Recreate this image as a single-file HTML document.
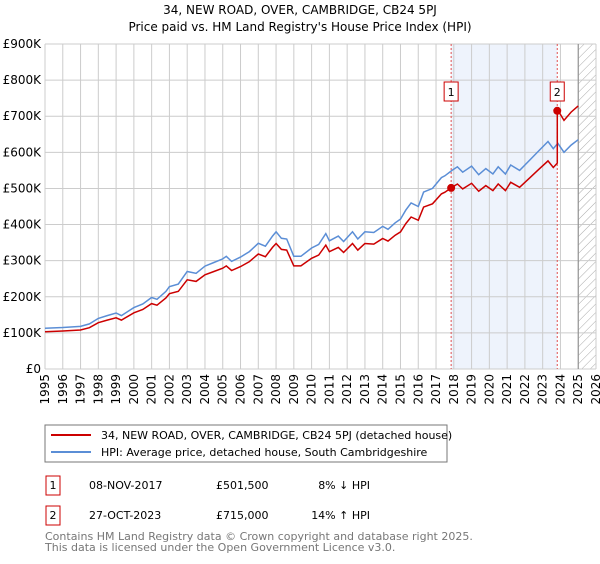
<!DOCTYPE html>
<html><head><meta charset="utf-8"><style>
body{margin:0;background:#fff;font-family:"DejaVu Sans","Liberation Sans",sans-serif}
</style></head><body>
<svg width="600" height="560" xmlns="http://www.w3.org/2000/svg" style="font-family:'DejaVu Sans','Liberation Sans',sans-serif">
<text x="300" y="14" text-anchor="middle" font-size="12">34, NEW ROAD, OVER, CAMBRIDGE, CB24 5PJ</text>
<text x="300" y="31" text-anchor="middle" font-size="12">Price paid vs. HM Land Registry's House Price Index (HPI)</text>
<defs><pattern id="hatch" width="6" height="6" patternUnits="userSpaceOnUse" patternTransform="rotate(45)"><line x1="0" y1="0" x2="0" y2="6" stroke="#aaa" stroke-width="1"/></pattern></defs>
<g id="plot"></g>
<rect x="45" y="425" width="402" height="37" fill="none" stroke="#777"/>
<line x1="51" y1="435" x2="91" y2="435" stroke="#cc0000" stroke-width="2"/>
<text x="101" y="439" font-size="11">34, NEW ROAD, OVER, CAMBRIDGE, CB24 5PJ (detached house)</text>
<line x1="51" y1="452" x2="91" y2="452" stroke="#5b8ed6" stroke-width="2"/>
<text x="101" y="456" font-size="11">HPI: Average price, detached house, South Cambridgeshire</text>
<g font-size="11">
<rect x="46" y="476" width="14" height="19" fill="none" stroke="#cc0000"/>
<text x="53" y="489" text-anchor="middle">1</text>
<text x="89" y="489">08-NOV-2017</text><text x="216" y="489">£501,500</text><text x="370" y="489" text-anchor="end">8% ↓ HPI</text>
<rect x="46" y="506" width="14" height="19" fill="none" stroke="#cc0000"/>
<text x="53" y="519" text-anchor="middle">2</text>
<text x="89" y="519">27-OCT-2023</text><text x="216" y="519">£715,000</text><text x="370" y="519" text-anchor="end">14% ↑ HPI</text>
</g>
<text x="45" y="540" font-size="11" fill="#777">Contains HM Land Registry data © Crown copyright and database right 2025.</text>
<text x="45" y="551" font-size="11" fill="#777">This data is licensed under the Open Government Licence v3.0.</text>
</svg>
<script>
const hpiYears=[1995,1996,1997,1997.5,1998,1998.5,1999,1999.3,2000,2000.5,2001,2001.3,2001.8,2002,2002.5,2003,2003.5,2004,2004.5,2005,2005.2,2005.5,2006,2006.5,2007,2007.4,2007.8,2008,2008.3,2008.6,2009,2009.4,2010,2010.4,2010.8,2011,2011.5,2011.8,2012.3,2012.6,2013,2013.5,2014,2014.3,2014.7,2015,2015.3,2015.6,2016,2016.3,2016.8,2017.3,2017.5,2017.9,2018.2,2018.5,2019,2019.4,2019.8,2020.2,2020.5,2020.9,2021.2,2021.7,2022.3,2022.8,2023.3,2023.6,2023.85,2024.2,2024.6,2025.0];
const hpiValues=[113,115,118,125,140,148,155,148,170,180,198,193,215,228,235,270,265,285,295,305,312,298,310,325,348,340,368,380,362,360,312,312,335,345,375,355,368,353,380,360,380,378,395,387,405,415,440,460,450,490,500,530,535,550,560,545,562,538,555,540,560,540,565,550,580,605,630,610,625,600,620,635];
const saleYears=[2017.85,2023.82];
const salePrices=[501.5,715];
const saleLabels=["1","2"];
const yTicks=[0,100,200,300,400,500,600,700,800,900];
const xTicks=[1995,1996,1997,1998,1999,2000,2001,2002,2003,2004,2005,2006,2007,2008,2009,2010,2011,2012,2013,2014,2015,2016,2017,2018,2019,2020,2021,2022,2023,2024,2025,2026];
const NS="http://www.w3.org/2000/svg";
const X0=45,X1=596,Y0=369,Y1=44;
const xs=t=>X0+(t-1995)/(2026-1995)*(X1-X0);
const ys=v=>Y0-v/900*(Y0-Y1);
const g=document.getElementById('plot');
function mk(tag,attrs){const e=document.createElementNS(NS,tag);for(const k in attrs)e.setAttribute(k,attrs[k]);g.appendChild(e);return e;}
function hpiAt(t){for(let i=0;i<hpiYears.length-1;i++){if(t>=hpiYears[i]&&t<=hpiYears[i+1]){const f=(t-hpiYears[i])/(hpiYears[i+1]-hpiYears[i]);return hpiValues[i]+f*(hpiValues[i+1]-hpiValues[i]);}}return hpiValues[hpiValues.length-1];}
// shading
let r=mk('rect',{x:xs(saleYears[0]),y:Y1,width:xs(saleYears[1])-xs(saleYears[0]),height:Y0-Y1,fill:'#eef3fc'});

r=mk('rect',{x:xs(2025),y:Y1,width:xs(2026)-xs(2025),height:Y0-Y1,fill:'url(#hatch)'});

yTicks.forEach(v=>{let l=mk('line',{x1:X0,x2:X1,y1:ys(v),y2:ys(v),stroke:'#ccc'});

let t=mk('text',{x:X0-4,y:ys(v)+4,'text-anchor':'end','font-size':12});t.textContent=v===0?'£0':'£'+v+'K';
});
xTicks.forEach(y=>{let l=mk('line',{x1:xs(y),x2:xs(y),y1:Y1,y2:Y0,stroke:'#ccc'});

let t=mk('text',{x:0,y:0,'text-anchor':'end','font-size':12,transform:`translate(${xs(y)+4},${Y0+5}) rotate(-90)`});t.textContent=y;
});
let ax=mk('line',{x1:xs(2025),x2:xs(2025),y1:Y1,y2:Y0,stroke:'#888'});
saleYears.forEach((s,i)=>{let l=mk('line',{x1:xs(s),x2:xs(s),y1:Y1,y2:Y0,stroke:'#e05050','stroke-dasharray':'2,2'});
});
// hpi line
let pts=hpiYears.map((t,i)=>xs(t).toFixed(1)+','+ys(hpiValues[i]).toFixed(1)).join(' ');
let p=mk('polyline',{points:pts,fill:'none',stroke:'#5b8ed6','stroke-width':1.5});

// property line
const r1=salePrices[0]/hpiAt(saleYears[0]),r2=salePrices[1]/hpiAt(saleYears[1]);
let rp=[];
hpiYears.forEach((t,i)=>{if(t<saleYears[1])rp.push([t,hpiValues[i]*r1]);});
rp.push([saleYears[1],hpiAt(saleYears[1])*r1]);rp.push([saleYears[1],salePrices[1]]);
hpiYears.forEach((t,i)=>{if(t>saleYears[1])rp.push([t,hpiValues[i]*r2]);});
p=mk('polyline',{points:rp.map(a=>xs(a[0]).toFixed(1)+','+ys(a[1]).toFixed(1)).join(' '),fill:'none',stroke:'#cc0000','stroke-width':1.5});

saleYears.forEach((s,i)=>{let c=mk('circle',{cx:xs(s),cy:ys(salePrices[i]),r:4,fill:'#cc0000'});

let b=mk('rect',{x:xs(s)-7,y:82,width:14,height:19,fill:'#fff',stroke:'#cc0000'});

let t=mk('text',{x:xs(s),y:96,'text-anchor':'middle','font-size':11});t.textContent=saleLabels[i];
});
</script>
</body></html>
